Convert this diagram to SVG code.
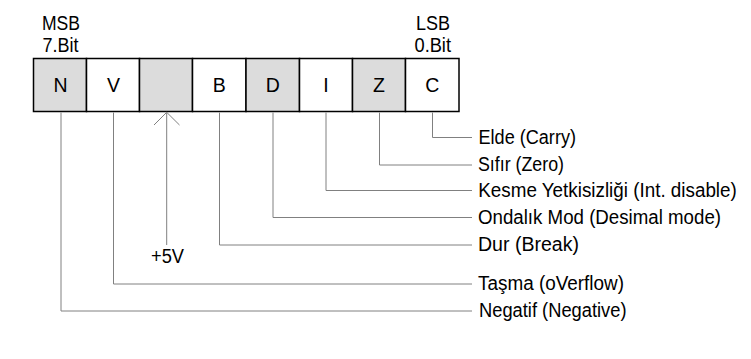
<svg xmlns="http://www.w3.org/2000/svg" width="751" height="359" viewBox="0 0 751 359">
<style>
text{font-family:"Liberation Sans",Arial,sans-serif;font-size:19.5px;fill:#000}
.cell{stroke:#000;stroke-width:1.5}
.g{fill:#dcdcdc}
.w{fill:#fff}
.c{text-anchor:middle}
.conn{fill:none;stroke:#808080;stroke-width:1}
</style>
<rect width="751" height="359" fill="#fff"/>
<g id="header">
<text x="42" y="29.5" textLength="38" lengthAdjust="spacingAndGlyphs">MSB</text>
<text x="42.5" y="52" textLength="36" lengthAdjust="spacingAndGlyphs">7.Bit</text>
<text x="416" y="29.5" textLength="34" lengthAdjust="spacingAndGlyphs">LSB</text>
<text x="414.5" y="52" textLength="36.5" lengthAdjust="spacingAndGlyphs">0.Bit</text>
</g>
<g id="bit-N"><rect class="cell g" x="33.5" y="58.5" width="53" height="53"/><text class="c" x="60.5" y="91.8">N</text></g>
<g id="bit-V"><rect class="cell w" x="86.5" y="58.5" width="53" height="53"/><text class="c" x="113.5" y="91.8">V</text></g>
<g id="bit-5"><rect class="cell g" x="139.5" y="58.5" width="53" height="53"/></g>
<g id="bit-B"><rect class="cell w" x="192.5" y="58.5" width="53.5" height="53"/><text class="c" x="219.3" y="91.8">B</text></g>
<g id="bit-D"><rect class="cell g" x="246" y="58.5" width="53.5" height="53"/><text class="c" x="272.8" y="91.8">D</text></g>
<g id="bit-I"><rect class="cell w" x="299.5" y="58.5" width="53" height="53"/><text class="c" x="326" y="91.8">I</text></g>
<g id="bit-Z"><rect class="cell g" x="352.5" y="58.5" width="53" height="53"/><text class="c" x="379" y="91.8">Z</text></g>
<g id="bit-C"><rect class="cell w" x="405.5" y="58.5" width="53.5" height="53"/><text class="c" x="432.3" y="91.8">C</text></g>
<g id="connectors">
<path class="conn" d="M432.5 112.5V137.5H472"/>
<path class="conn" d="M379.5 112.5V165H472"/>
<path class="conn" d="M326 112.5V190.5H472"/>
<path class="conn" d="M273 112.5V217.5H472"/>
<path class="conn" d="M219.5 112.5V245H472"/>
<path class="conn" d="M113.5 112.5V284H472"/>
<path class="conn" d="M61 112.5V311H472" stroke="#a0a0a0"/>
<path class="conn" d="M166.7 245V112.5M154 125L166.7 112.3L179.5 125" stroke="#666"/>
</g>
<g id="labels">
<text x="151" y="262.5" textLength="33" lengthAdjust="spacingAndGlyphs">+5V</text>
<text x="478.5" y="144" textLength="97.5" lengthAdjust="spacingAndGlyphs">Elde (Carry)</text>
<text x="478" y="171" textLength="86" lengthAdjust="spacingAndGlyphs">Sıfır (Zero)</text>
<text x="478.3" y="197" textLength="258.5" lengthAdjust="spacingAndGlyphs">Kesme Yetkisizliği (Int. disable)</text>
<text x="478" y="223.5" textLength="243" lengthAdjust="spacingAndGlyphs">Ondalık Mod (Desimal mode)</text>
<text x="478" y="251" textLength="101" lengthAdjust="spacingAndGlyphs">Dur (Break)</text>
<text x="478" y="290" textLength="146" lengthAdjust="spacingAndGlyphs">Taşma (oVerflow)</text>
<text x="479" y="316.5" textLength="147.5" lengthAdjust="spacingAndGlyphs">Negatif (Negative)</text>
</g>
</svg>
